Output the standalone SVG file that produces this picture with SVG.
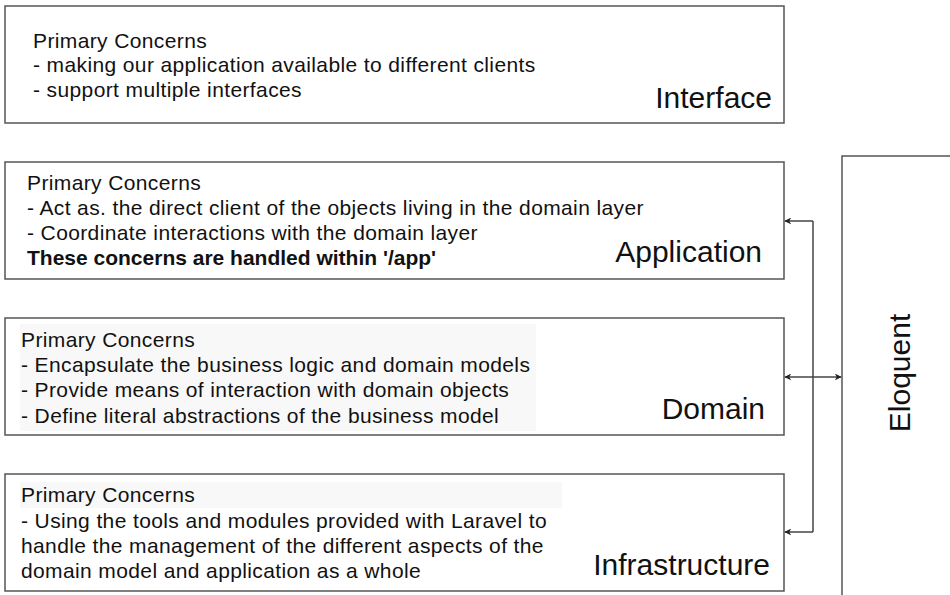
<svg xmlns="http://www.w3.org/2000/svg" width="950" height="595" viewBox="0 0 950 595">
<defs>
<style>
.box{fill:#fff;stroke:#555;stroke-width:1.5}
.t{font-family:"Liberation Sans",Arial,sans-serif;font-size:21px;letter-spacing:0.38px;fill:#111}
.b{font-weight:bold;letter-spacing:0}
.lbl{font-family:"Liberation Sans",Arial,sans-serif;font-size:30px;fill:#111}
.conn{fill:none;stroke:#444;stroke-width:1.5}
.shade{fill:#f8f8f8}
</style>
<marker id="ah" viewBox="0 0 10 10" refX="9" refY="5" markerWidth="7" markerHeight="7" orient="auto-start-reverse" markerUnits="userSpaceOnUse">
<path d="M0,0 L10,5 L0,10 L3,5 z" fill="#222"/>
</marker>
</defs>
<rect width="950" height="595" fill="#fff"/>
<g id="interface">
<rect class="box" x="5" y="6" width="779" height="117"/>
<text class="t" x="33" y="48">Primary Concerns</text>
<text class="t" x="33" y="72">- making our application available to different clients</text>
<text class="t" x="33" y="97">- support multiple interfaces</text>
<text class="lbl" x="772" y="108" text-anchor="end">Interface</text>
</g>
<g id="application">
<rect class="box" x="5" y="162" width="779" height="117"/>
<text class="t" x="27" y="190">Primary Concerns</text>
<text class="t" x="27" y="215">- Act as. the direct client of the objects living in the domain layer</text>
<text class="t" x="27" y="240">- Coordinate interactions with the domain layer</text>
<text class="t b" x="27" y="265">These concerns are handled within '/app'</text>
<text class="lbl" x="762" y="262" text-anchor="end">Application</text>
</g>
<g id="domain">
<rect class="box" x="5" y="318" width="779" height="117"/>
<rect class="shade" x="20" y="324" width="516" height="107"/>
<text class="t" x="21" y="347">Primary Concerns</text>
<text class="t" x="21" y="372">- Encapsulate the business logic and domain models</text>
<text class="t" x="21" y="397">- Provide means of interaction with domain objects</text>
<text class="t" x="21" y="423">- Define literal abstractions of the business model</text>
<text class="lbl" x="765" y="419" text-anchor="end">Domain</text>
</g>
<g id="infrastructure">
<rect class="box" x="5" y="474" width="779" height="117"/>
<rect class="shade" x="20" y="482" width="542" height="26"/>
<text class="t" x="21" y="502">Primary Concerns</text>
<text class="t" x="21" y="528">- Using the tools and modules provided with Laravel to</text>
<text class="t" x="21" y="553">handle the management of the different aspects of the</text>
<text class="t" x="21" y="578">domain model and application as a whole</text>
<text class="lbl" x="770" y="575" text-anchor="end">Infrastructure</text>
</g>
<g id="eloquent">
<rect class="box" x="842" y="156" width="120" height="450"/>
<text class="lbl" x="0" y="0" text-anchor="middle" transform="translate(910,373) rotate(-90)">Eloquent</text>
</g>
<g id="connectors">
<path class="conn" d="M813,221 V532"/>
<path class="conn" d="M813,221 H785" marker-end="url(#ah)"/>
<path class="conn" d="M813,532 H785" marker-end="url(#ah)"/>
<path class="conn" d="M785,377 H841" marker-start="url(#ah)" marker-end="url(#ah)"/>
</g>
</svg>
